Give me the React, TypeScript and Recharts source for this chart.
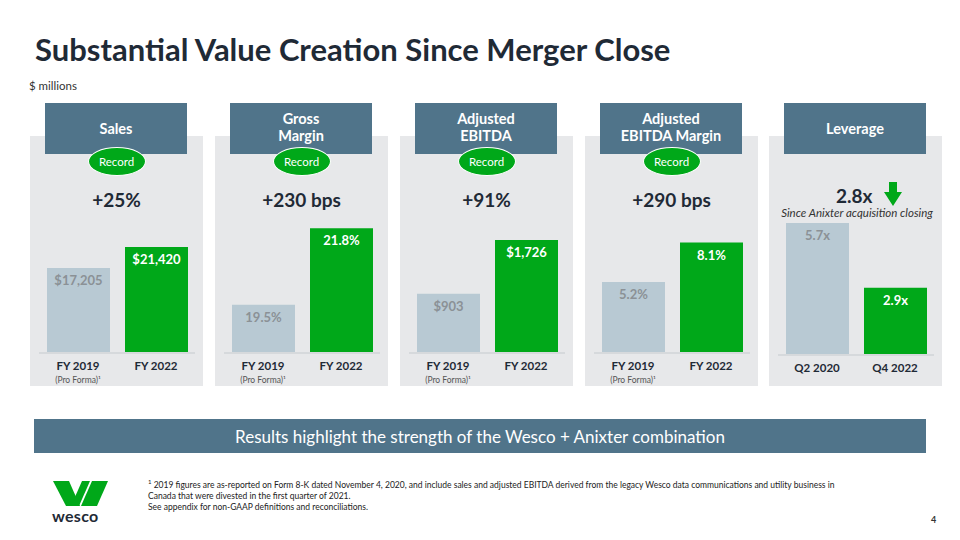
import { BarChart, Bar, XAxis, YAxis, Cell } from "recharts";

const fiscalYears = ["FY 2019", "FY 2022"];
const leverageQuarters = ["Q2 2020", "Q4 2022"];
const proFormaNotes = ["(Pro Forma)¹", ""];
const noNotes = ["", ""];
const salesValues = [17205, 21420];
const grossMarginValues = [19.5, 21.8];
const ebitdaValues = [903, 1726];
const ebitdaMarginValues = [5.2, 8.1];
const leverageValues = [5.7, 2.9];

const GREEN = "#00a819";
const SLATE = "#50748a";
const PANEL = "#e7e8ea";
const OLD_BAR = "#b8c9d3";
const DARK = "#1f2a36";
const FONT = "Lato, 'Open Sans', sans-serif";

const money = (v: number) => `$${v.toLocaleString("en-US")}`;
const pct = (v: number) => `${v.toFixed(1)}%`;
const times = (v: number) => `${v.toFixed(1)}x`;

const toRows = (cats: string[], values: number[], notes: string[]) =>
  cats.map((c, i) => ({ name: c, value: values[i], note: notes[i] }));

type Row = { name: string; value: number; note: string };

const Tick = (props: any) => {
  const { x, y, payload, notes } = props;
  const note = notes[payload.index];
  return (
    <g>
      <text x={x} y={y + 9} textAnchor="middle" fontSize={11.5} fontWeight={700} fill={DARK} fontFamily={FONT}>
        {payload.value}
      </text>
      {note && (
        <text x={x} y={y + 22} textAnchor="middle" fontSize={8.5} fill="#555" fontFamily={FONT}>
          {note}
        </text>
      )}
    </g>
  );
};

const MiniChart = ({
  left,
  top,
  rows,
  domain,
  fmt,
  notes,
}: {
  left: number;
  top: number;
  rows: Row[];
  domain: [number, number];
  fmt: (v: number) => string;
  notes: string[];
}) => {
  const renderLabel = (p: any) => {
    const { x, y, width, value, index } = p;
    return (
      <text
        x={x + width / 2}
        y={y + 17}
        textAnchor="middle"
        fontSize={13}
        fontWeight={700}
        fill={index === 0 ? "#8b9196" : "#ffffff"}
        fontFamily={FONT}
      >
        {fmt(value)}
      </text>
    );
  };
  return (
    <div style={{ position: "absolute", left, top }}>
      <BarChart width={173} height={176} data={rows} margin={{ top: 10, right: 8, bottom: 0, left: 9 }} barCategoryGap={8}>
        <XAxis
          dataKey="name"
          height={33}
          tickLine={false}
          axisLine={{ stroke: "#d6d9dc", strokeWidth: 2 }}
          interval={0}
          tick={(t: any) => <Tick {...t} notes={notes} />}
        />
        <YAxis hide domain={domain} allowDataOverflow type="number" />
        <Bar dataKey="value" barSize={63} isAnimationActive={false} label={renderLabel}>
          {rows.map((_, i) => (
            <Cell key={i} fill={i === 0 ? OLD_BAR : GREEN} />
          ))}
        </Bar>
      </BarChart>
    </div>
  );
};

const Panel = ({
  left,
  title,
  record,
  change,
}: {
  left: number;
  title: string[];
  record: boolean;
  change?: string;
}) => (
  <>
    <div style={{ position: "absolute", left, top: 136, width: 173, height: 250, background: PANEL }} />
    <div
      style={{
        position: "absolute",
        left: left + 15,
        top: 103,
        width: 142,
        height: 51,
        background: SLATE,
        color: "#fff",
        fontWeight: 700,
        fontSize: 14.5,
        lineHeight: "17px",
        display: "flex",
        flexDirection: "column",
        alignItems: "center",
        justifyContent: "center",
        textAlign: "center",
        paddingBottom: title.length > 1 ? 4 : 0,
        boxSizing: "border-box",
      }}
    >
      {title.map((t) => (
        <div key={t}>{t}</div>
      ))}
    </div>
    {record && (
      <div
        style={{
          position: "absolute",
          left: left + 86.5 - 29,
          top: 147,
          width: 58,
          height: 29,
          borderRadius: "50%",
          background: GREEN,
          border: "1.5px solid #fff",
          boxSizing: "border-box",
          color: "#fff",
          fontSize: 11.5,
          display: "flex",
          alignItems: "center",
          justifyContent: "center",
        }}
      >
        Record
      </div>
    )}
    {change && (
      <div
        style={{
          position: "absolute",
          left,
          width: 173,
          top: 188,
          textAlign: "center",
          fontSize: 19,
          fontWeight: 700,
          color: DARK,
        }}
      >
        {change}
      </div>
    )}
  </>
);

const App = () => {
  const panelLefts = [30, 215, 400, 585, 769];
  return (
    <div
      style={{
        position: "absolute",
        left: 0,
        top: 0,
        width: 960,
        height: 540,
        background: "#fff",
        fontFamily: FONT,
        overflow: "hidden",
      }}
    >
      <div style={{ position: "absolute", left: 35, top: 30, fontSize: 31, lineHeight: "38px", fontWeight: 700, color: DARK }}>
        Substantial Value Creation Since Merger Close
      </div>
      <div style={{ position: "absolute", left: 29, top: 79, fontSize: 11.5, color: "#333" }}>$ millions</div>

      <Panel left={panelLefts[0]} title={["Sales"]} record change="+25%" />
      <Panel left={panelLefts[1]} title={["Gross", "Margin"]} record change="+230 bps" />
      <Panel left={panelLefts[2]} title={["Adjusted", "EBITDA"]} record change="+91%" />
      <Panel left={panelLefts[3]} title={["Adjusted", "EBITDA Margin"]} record change="+290 bps" />
      <Panel left={panelLefts[4]} title={["Leverage"]} record={false} />

      <div
        style={{
          position: "absolute",
          left: 836,
          top: 186,
          fontSize: 19,
          lineHeight: "20px",
          fontWeight: 700,
          color: DARK,
        }}
      >
        2.8x
      </div>
      <svg style={{ position: "absolute", left: 880, top: 180 }} width={26} height={28}>
        <polygon points="9,2 17,2 17,12 22,12 13,26 4,12 9,12" fill={GREEN} />
      </svg>
      <div
        style={{
          position: "absolute",
          left: 769,
          width: 176,
          top: 206,
          textAlign: "center",
          fontSize: 11.5,
          lineHeight: "13px",
          fontStyle: "italic",
          color: "#333",
        }}
      >
        Since Anixter acquisition closing
      </div>

      <MiniChart left={panelLefts[0]} top={210} rows={toRows(fiscalYears, salesValues, proFormaNotes)} domain={[0, 26900]} fmt={money} notes={proFormaNotes} />
      <MiniChart left={panelLefts[1]} top={210} rows={toRows(fiscalYears, grossMarginValues, proFormaNotes)} domain={[18.05, 22.05]} fmt={pct} notes={proFormaNotes} />
      <MiniChart left={panelLefts[2]} top={210} rows={toRows(fiscalYears, ebitdaValues, proFormaNotes)} domain={[0, 2030]} fmt={money} notes={proFormaNotes} />
      <MiniChart left={panelLefts[3]} top={210} rows={toRows(fiscalYears, ebitdaMarginValues, proFormaNotes)} domain={[0, 9.75]} fmt={pct} notes={proFormaNotes} />
      <MiniChart left={panelLefts[4]} top={212} rows={toRows(leverageQuarters, leverageValues, noNotes)} domain={[0, 5.74]} fmt={times} notes={noNotes} />

      <div
        style={{
          position: "absolute",
          left: 34,
          top: 419,
          width: 892,
          height: 34,
          background: SLATE,
          color: "#fff",
          fontSize: 17,
          display: "flex",
          alignItems: "center",
          justifyContent: "center",
        }}
      >
        Results highlight the strength of the Wesco + Anixter combination
      </div>

      <svg style={{ position: "absolute", left: 50, top: 478 }} width={62} height={52}>
        <polygon points="3,3 19,3 30,28 16,28" fill={GREEN} />
        <polygon points="21,28 32,3 40,3 29,28" fill={GREEN} />
        <polygon points="42,3 58,3 47,28 31,28" fill={GREEN} />
      </svg>
      <div style={{ position: "absolute", left: 52, top: 506, fontSize: 16, fontWeight: 700, color: DARK, letterSpacing: 0.3 }}>
        wesco
      </div>

      <div style={{ position: "absolute", left: 148, top: 476, fontSize: 8.5, lineHeight: "11px", color: "#222" }}>
        <div>
          <sup style={{ fontSize: 6 }}>1</sup> 2019 figures are as-reported on Form 8-K dated November 4, 2020, and include sales and adjusted EBITDA derived from the legacy Wesco data communications and utility business in
        </div>
        <div>Canada that were divested in the first quarter of 2021.</div>
        <div>See appendix for non-GAAP definitions and reconciliations.</div>
      </div>
      <div style={{ position: "absolute", left: 931, top: 514, fontSize: 9, fontWeight: 700, color: "#333" }}>4</div>
    </div>
  );
};

export default App;
